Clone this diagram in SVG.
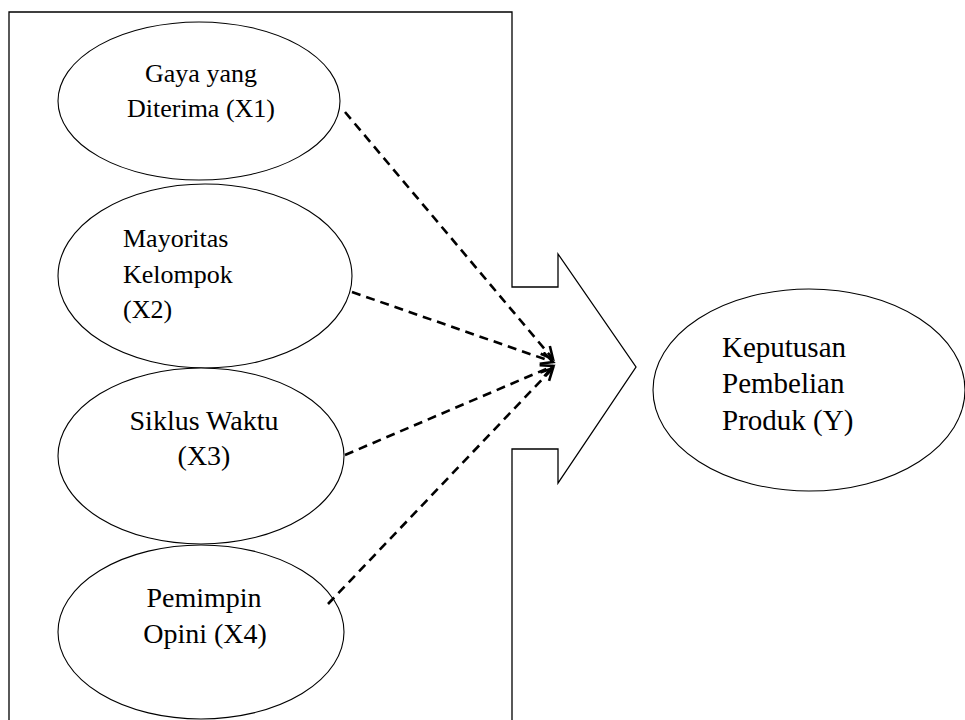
<svg xmlns="http://www.w3.org/2000/svg" width="965" height="720" viewBox="0 0 965 720">
<style>
.n{fill:#fff;stroke:#000;stroke-width:1.1}
.t{font-family:"Liberation Serif","Times New Roman",serif;fill:#000}
.c{fill:none;stroke:#000;stroke-width:2.6;stroke-dasharray:9 6}
</style>
<defs>
<marker id="ah" markerUnits="userSpaceOnUse" markerWidth="16" markerHeight="16" refX="13" refY="7" orient="auto">
<path d="M1,1 L13,7 L1,13" fill="none" stroke="#000" stroke-width="2.6"/>
</marker>
</defs>
<rect width="965" height="720" fill="#fff"/>
<g id="frame">
<path d="M9,730 L9,12 L512,12 L512,287 L558,287 L558,254 L636,367 L558,483 L558,449 L512,449 L512,730" fill="none" stroke="#000" stroke-width="1.3"/>
</g>
<g id="x1">
<ellipse class="n" cx="199" cy="101" rx="141" ry="79"/>
<text class="t" font-size="26" text-anchor="middle" x="201" y="82">Gaya yang</text>
<text class="t" font-size="26" text-anchor="middle" x="201" y="117">Diterima (X1)</text>
</g>
<g id="x2">
<ellipse class="n" cx="205" cy="276" rx="147" ry="92"/>
<text class="t" font-size="26" x="123" y="247">Mayoritas</text>
<text class="t" font-size="26" x="123" y="283">Kelompok</text>
<text class="t" font-size="26" x="123" y="318">(X2)</text>
</g>
<g id="x3">
<ellipse class="n" cx="201" cy="456" rx="143" ry="88"/>
<text class="t" font-size="28" text-anchor="middle" x="204" y="430">Siklus Waktu</text>
<text class="t" font-size="28" text-anchor="middle" x="204" y="465">(X3)</text>
</g>
<g id="x4">
<ellipse class="n" cx="201" cy="632" rx="143" ry="87"/>
<text class="t" font-size="28" text-anchor="middle" x="204" y="607">Pemimpin</text>
<text class="t" font-size="28" text-anchor="middle" x="205" y="643">Opini (X4)</text>
</g>
<g id="y">
<ellipse class="n" cx="809" cy="390" rx="156" ry="101"/>
<text class="t" font-size="29" x="722" y="357">Keputusan</text>
<text class="t" font-size="29" x="722" y="393">Pembelian</text>
<text class="t" font-size="29" x="722" y="430">Produk (Y)</text>
</g>
<g id="connectors">
<line class="c" x1="345" y1="112" x2="553" y2="359" marker-end="url(#ah)"/>
<line class="c" x1="352" y1="292" x2="553" y2="362" marker-end="url(#ah)"/>
<line class="c" x1="345" y1="455" x2="553" y2="366" marker-end="url(#ah)"/>
<line class="c" x1="328" y1="604" x2="553" y2="368" marker-end="url(#ah)"/>
</g>
</svg>
